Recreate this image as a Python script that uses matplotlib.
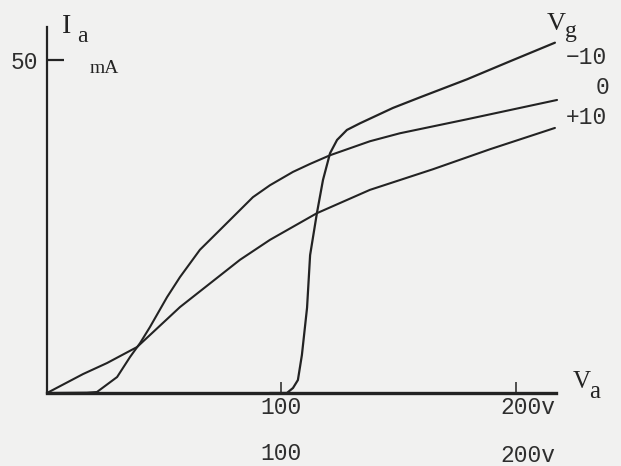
import matplotlib
matplotlib.use('Agg')
import matplotlib.pyplot as plt
from matplotlib import transforms

# anode voltage Va (V) and anode current Ia (mA)
va_m10 = [95, 102.3, 104.9, 107.0, 108.7, 110.9, 112.2, 115.1, 117.7, 120.7,
          123.7, 127.9, 133.5, 147.5, 159.1, 179.1, 197.4, 216.6]
ia_m10 = [0, 0, 0.75, 1.95, 5.7, 12.8, 20.7, 27.0, 32.0, 36.0,
          38.0, 39.5, 40.5, 42.8, 44.4, 47.1, 49.8, 52.6]

va_0 = [0, 17.0, 21.3, 29.9, 35.4, 39.7, 43.9, 51.2, 56.7, 65.2, 73.8,
        87.8, 95.1, 104.9, 112.2, 120.7, 137.7, 150.5, 179.1, 217.5]
ia_0 = [0, 0.05, 0.15, 2.4, 5.4, 7.5, 9.9, 14.4, 17.4, 21.5, 24.5,
        29.4, 31.2, 33.2, 34.4, 35.7, 37.8, 39.0, 41.1, 44.0]

va_p10 = [0, 15.4, 25.6, 38.4, 56.7, 82.3, 95.1, 115.1, 137.7, 164.6, 188.9, 216.6]
ia_p10 = [0, 2.85, 4.5, 6.9, 12.9, 20.0, 23.0, 27.0, 30.5, 33.6, 36.6, 39.8]

grid_labels = ['\u221210', '0', '+10']
x_ticks = [100, 200]
x_tick_labels = ['100', '200v']
y_ticks = [50]

ink = '#232323'
typ = '#2e2e2e'
paper = '#f1f1f0'
mono = 'Liberation Mono'
serif = 'Liberation Serif'

fig = plt.figure(figsize=(6.21, 4.66), dpi=100, facecolor=paper)
ax = fig.add_axes([0, 0, 1, 1])
ax.set_facecolor(paper)
ax.set_xlim(-20.04, 244.78)
ax.set_ylim(-10.96, 59.01)

ax.plot(va_m10, ia_m10, color=ink, lw=1.6, solid_capstyle='round', solid_joinstyle='round')
ax.plot(va_0, ia_0, color=ink, lw=1.5, solid_capstyle='round', solid_joinstyle='round')
ax.plot(va_p10, ia_p10, color=ink, lw=1.5, solid_capstyle='round', solid_joinstyle='round')

# axes drawn as hand-ruled lines through the origin
for s in ['top', 'right']:
    ax.spines[s].set_visible(False)
ax.spines['left'].set_position(('data', 0))
ax.spines['bottom'].set_position(('data', 0))
ax.spines['left'].set_bounds(0, 55)
ax.spines['bottom'].set_bounds(0, 217)
ax.spines['left'].set_linewidth(1.6)
ax.spines['bottom'].set_linewidth(2.4)
ax.spines['left'].set_color(ink)
ax.spines['bottom'].set_color(ink)

ax.set_xticks(x_ticks)
ax.set_xticklabels(x_tick_labels, fontfamily=mono, fontsize=16.5, color=typ)
ax.set_yticks(y_ticks)
ax.set_yticklabels([str(v) for v in y_ticks], fontfamily=mono, fontsize=16.5, color=typ)
ax.tick_params(axis='x', direction='in', length=8, width=1.1, color=ink, pad=2)
ax.tick_params(axis='y', direction='in', length=12.5, width=1.6, color=ink, pad=6.5)
# the "v" hangs off the right of 200
shift = transforms.ScaledTranslation(0.12, 0, fig.dpi_scale_trans)
lab = ax.get_xticklabels()[1]
lab.set_transform(lab.get_transform() + shift)

# Vg labels at the end of each curve
ends = [(va_m10[-1], ia_m10[-1], -15), (va_0[-1], ia_0[-1], 12), (va_p10[-1], ia_p10[-1], 10)]
for (x, y, dy), txt in zip(ends, grid_labels):
    ax.annotate(txt, xy=(x, y), xytext=(52, dy), textcoords='offset pixels',
                ha='right', va='center', fontfamily=mono, fontsize=16.5, color=typ)

# axis names
fig.text(62 / 621, 1 - 33 / 466, 'I', fontfamily=serif, fontsize=20, color=ink, va='baseline')
fig.text(77 / 621, 1 - 42 / 466, 'a', fontfamily=serif, fontsize=17, color=ink, va='baseline')
fig.text(90 / 621, 1 - 73 / 466, 'mA', fontfamily=serif, fontsize=14, color=ink, va='baseline')
fig.text(573 / 621, 1 - 388 / 466, 'V', fontfamily=serif, fontsize=18, color=ink, va='baseline')
fig.text(589 / 621, 1 - 398 / 466, 'a', fontfamily=serif, fontsize=18, color=ink, va='baseline')
fig.text(547 / 621, 1 - 30 / 466, 'V', fontfamily=serif, fontsize=19, color=ink, va='baseline')
fig.text(565 / 621, 1 - 37 / 466, 'g', fontfamily=serif, fontsize=17, color=ink, va='baseline')

# second typed scale row below the axis
tr = transforms.blended_transform_factory(ax.transData, fig.transFigure)
ax.text(x_ticks[0], 1 - 460 / 466, x_tick_labels[0], transform=tr, ha='center',
        va='baseline', fontfamily=mono, fontsize=16.5, color=typ)
ax.text(x_ticks[1], 1 - 462 / 466, x_tick_labels[1], transform=tr + shift, ha='center',
        va='baseline', fontfamily=mono, fontsize=16.5, color=typ)

fig.savefig('out.png', dpi=100, facecolor=paper)
